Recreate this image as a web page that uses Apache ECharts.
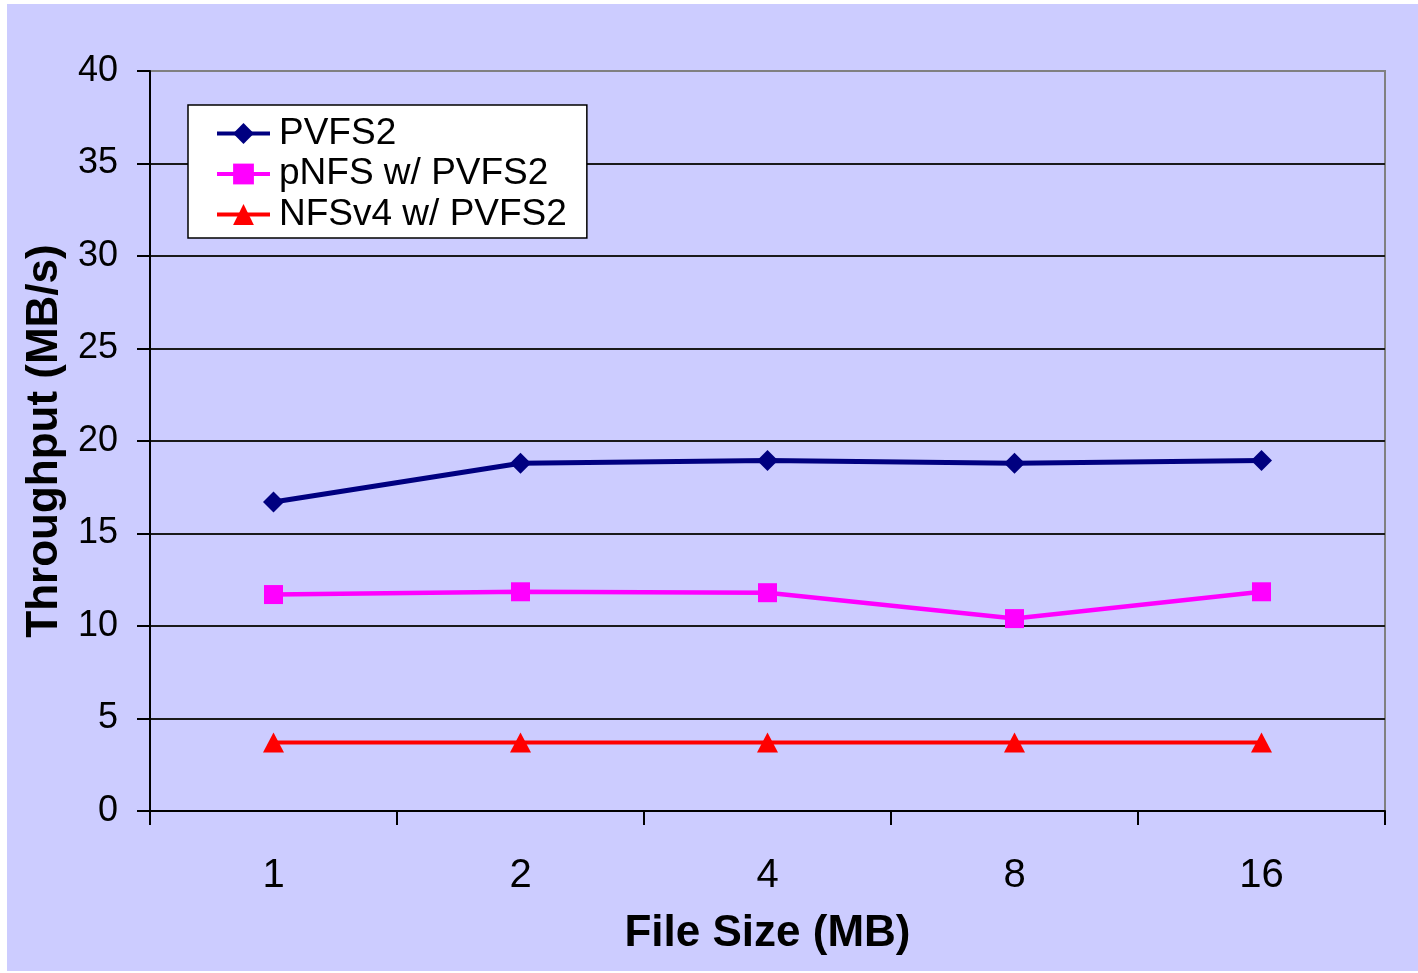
<!DOCTYPE html>
<html>
<head>
<meta charset="utf-8">
<script src="https://cdn.jsdelivr.net/npm/echarts@6/dist/echarts.min.js"></script>
<style>
html,body{margin:0;padding:0;background:#fff;}
#chart{width:1418px;height:973px;}
</style>
</head>
<body>
<div id="chart"></div>
<script>
const categories = ['1', '2', '4', '8', '16'];
const pvfs2 = [16.7, 18.8, 18.95, 18.8, 18.95];
const pnfs = [11.7, 11.85, 11.8, 10.4, 11.85];
const nfsv4 = [3.7, 3.7, 3.7, 3.7, 3.7];
const seriesNames = ['PVFS2', 'pNFS w/ PVFS2', 'NFSv4 w/ PVFS2'];

const FONT = '"Liberation Sans", Arial, sans-serif';
const chart = echarts.init(document.getElementById('chart'));
chart.setOption({
  backgroundColor: '#ffffff',
  animation: false,
  graphic: [{
    type: 'rect', z: -10, silent: true,
    shape: { x: 7, y: 4, width: 1411, height: 967 },
    style: { fill: '#CCCCFF' }
  }],
  grid: {
    left: 150, top: 71, width: 1235, height: 740,
    show: true, borderColor: '#808080', borderWidth: 2, backgroundColor: 'transparent'
  },
  legend: {
    orient: 'vertical',
    left: 188, top: 105,
    padding: [10, 20, 5, 27],
    backgroundColor: '#ffffff',
    borderColor: '#000000', borderWidth: 1.5,
    itemWidth: 53, itemHeight: 26,
    itemGap: 3.5,
    lineStyle: { width: 4 },
    textStyle: { fontFamily: FONT, fontSize: 37, color: '#000', padding: [0, 0, 0, 4] },
    data: seriesNames
  },
  xAxis: {
    type: 'category',
    data: categories,
    boundaryGap: true,
    axisLine: { lineStyle: { color: '#000', width: 2 } },
    axisTick: { show: true, length: 14, lineStyle: { color: '#000', width: 2 } },
    axisLabel: { fontFamily: FONT, fontSize: 40, color: '#000', margin: 45 },
    name: 'File Size (MB)',
    nameLocation: 'middle',
    nameGap: 101,
    nameTextStyle: { fontFamily: FONT, fontSize: 44, fontWeight: 'bold', color: '#000' }
  },
  yAxis: {
    type: 'value',
    min: 0, max: 40, interval: 5,
    axisLine: { show: true, lineStyle: { color: '#000', width: 2 } },
    axisTick: { show: true, length: 13, lineStyle: { color: '#000', width: 2 } },
    axisLabel: { fontFamily: FONT, fontSize: 36, color: '#000', margin: 32 },
    splitLine: { show: true, lineStyle: { color: ['#1a1a1a','#1a1a1a','#1a1a1a','#1a1a1a','#1a1a1a','#1a1a1a','#1a1a1a','#1a1a1a','#808080'], width: 2 } },
    name: 'Throughput (MB/s)',
    nameLocation: 'middle',
    nameGap: 77,
    nameTextStyle: { fontFamily: FONT, fontSize: 44, fontWeight: 'bold', color: '#000' }
  },
  series: [
    {
      name: seriesNames[0], type: 'line', data: pvfs2,
      symbol: 'diamond', symbolSize: 21,
      lineStyle: { color: '#000080', width: 5 },
      itemStyle: { color: '#000080' }
    },
    {
      name: seriesNames[1], type: 'line', data: pnfs,
      symbol: 'rect', symbolSize: 19,
      lineStyle: { color: '#FF00FF', width: 4.5 },
      itemStyle: { color: '#FF00FF' }
    },
    {
      name: seriesNames[2], type: 'line', data: nfsv4,
      symbol: 'triangle', symbolSize: [21, 20],
      lineStyle: { color: '#FF0000', width: 4 },
      itemStyle: { color: '#FF0000' }
    }
  ]
});
</script>
</body>
</html>
